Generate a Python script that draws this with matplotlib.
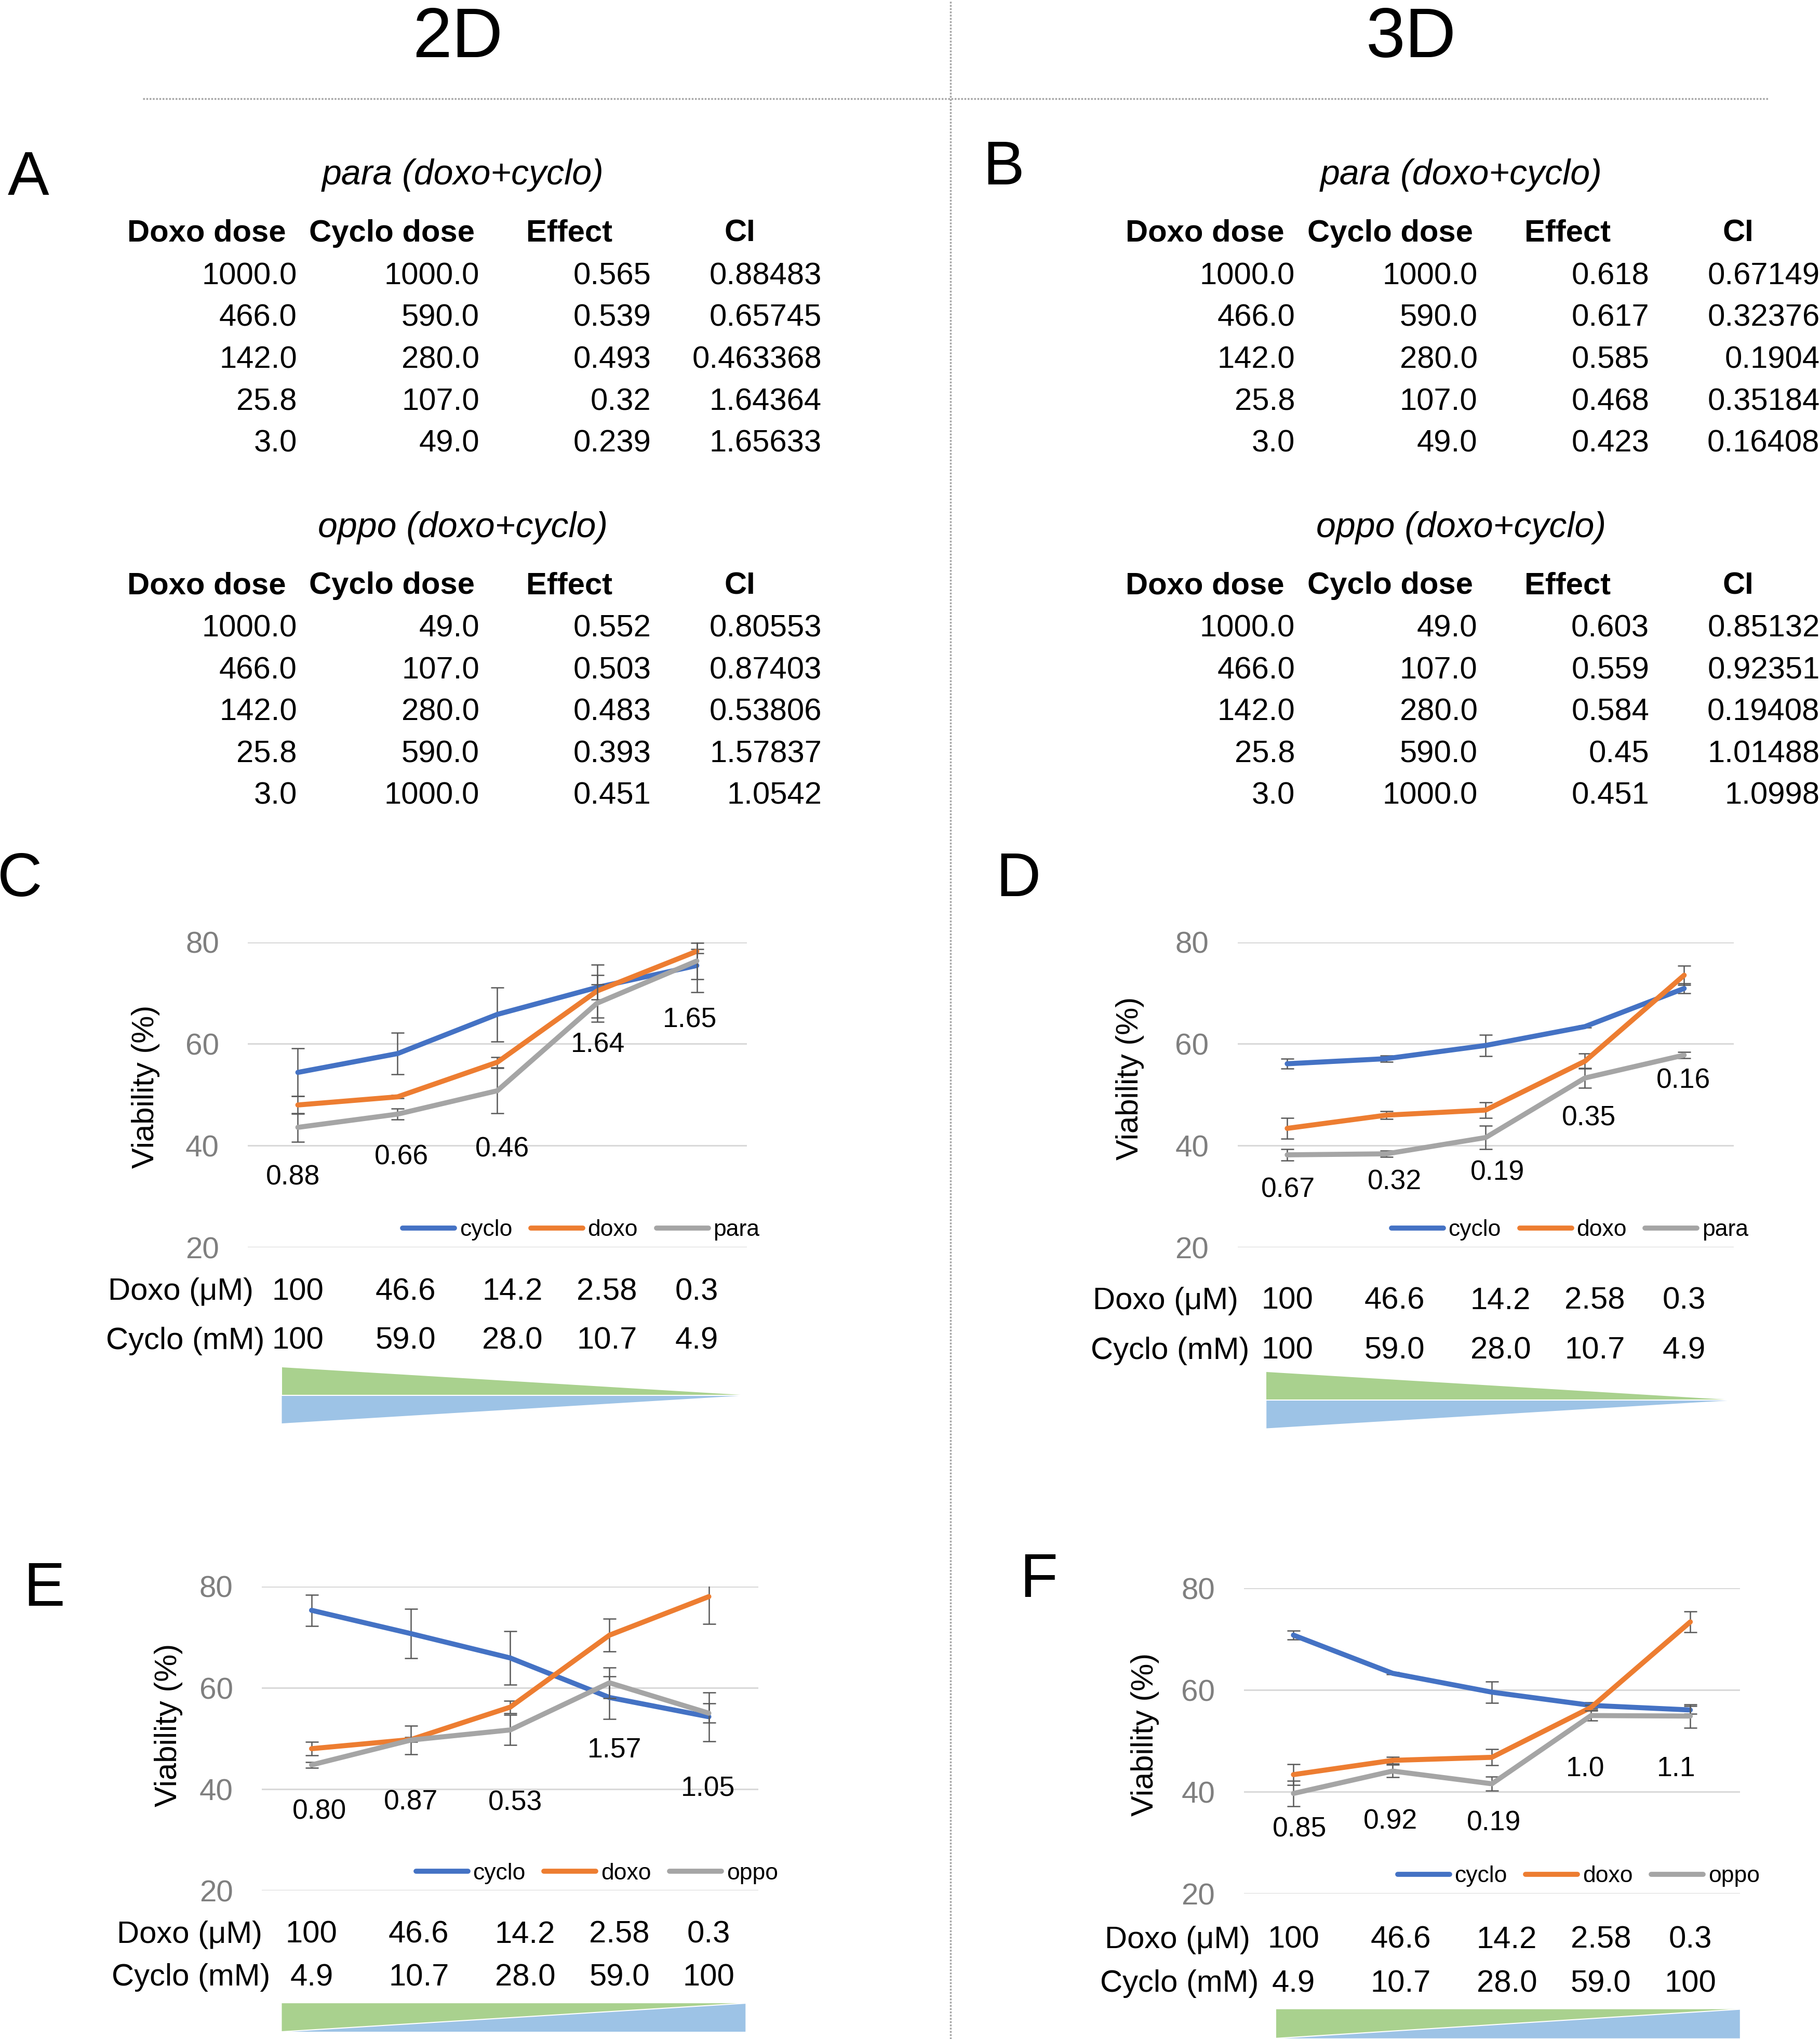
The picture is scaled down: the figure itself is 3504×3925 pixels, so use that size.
import numpy as np
import matplotlib.pyplot as plt
from matplotlib import transforms
from matplotlib.patches import Polygon
from matplotlib.lines import Line2D

plt.rcParams['font.family'] = ['Liberation Sans', 'DejaVu Sans']

# ---------------- data ----------------
# combination tables (A = 2D, B = 3D)
doxo_dose = [1000.0, 466.0, 142.0, 25.8, 3.0]
cyclo_dose_para = [1000.0, 590.0, 280.0, 107.0, 49.0]
cyclo_dose_oppo = [49.0, 107.0, 280.0, 590.0, 1000.0]

a_para_effect = [0.565, 0.539, 0.493, 0.32, 0.239]
a_para_ci = [0.88483, 0.65745, 0.463368, 1.64364, 1.65633]
a_oppo_effect = [0.552, 0.503, 0.483, 0.393, 0.451]
a_oppo_ci = [0.80553, 0.87403, 0.53806, 1.57837, 1.0542]

b_para_effect = [0.618, 0.617, 0.585, 0.468, 0.423]
b_para_ci = [0.67149, 0.32376, 0.1904, 0.35184, 0.16408]
b_oppo_effect = [0.603, 0.559, 0.584, 0.45, 0.451]
b_oppo_ci = [0.85132, 0.92351, 0.19408, 1.01488, 1.0998]

# concentration labels under the charts
conc_doxo = ['100', '46.6', '14.2', '2.58', '0.3']
conc_cyclo_para = ['100', '59.0', '28.0', '10.7', '4.9']
conc_cyclo_oppo = ['4.9', '10.7', '28.0', '59.0', '100']

# viability (%) and error bars
cyclo_c = [54.4, 58.1, 65.8, 71.1, 75.4]
cyclo_c_err = [4.7, 4.1, 5.3, 2.4, 5.2]
doxo_c = [48.0, 49.6, 56.4, 70.4, 78.2]
doxo_c_err = [1.7, 0.3, 1.0, 5.2, 0.4]
para_c = [43.6, 46.2, 50.8, 68.0, 76.3]
para_c_err = [2.8, 1.1, 4.4, 3.7, 3.6]
ci_c = ['0.88', '0.66', '0.46', '1.64', '1.65']

cyclo_d = [56.1, 57.1, 59.7, 63.4, 70.9]
cyclo_d_err = [1.0, 0.6, 2.1, 0.2, 1.0]
doxo_d = [43.4, 46.0, 47.0, 56.6, 73.5]
doxo_d_err = [2.0, 0.8, 1.5, 1.5, 1.9]
para_d = [38.2, 38.4, 41.6, 53.3, 57.8]
para_d_err = [1.1, 0.6, 2.3, 1.9, 0.6]
ci_d = ['0.67', '0.32', '0.19', '0.35', '0.16']

cyclo_e = [75.3, 70.7, 65.9, 58.1, 54.3]
cyclo_e_err = [3.1, 4.9, 5.3, 4.2, 4.8]
doxo_e = [48.0, 49.8, 56.2, 70.4, 78.0]
doxo_e_err = [1.3, 0.5, 1.2, 3.2, 5.4]
oppo_e = [44.8, 49.7, 51.7, 61.0, 55.0]
oppo_e_err = [0.6, 2.8, 3.0, 3.0, 1.9]
ci_e = ['0.80', '0.87', '0.53', '1.57', '1.05']

cyclo_f = [70.8, 63.3, 59.6, 57.0, 56.1]
cyclo_f_err = [0.9, 0.2, 2.1, 0.6, 0.8]
doxo_f = [43.4, 46.2, 46.8, 56.6, 73.4]
doxo_f_err = [2.0, 0.7, 1.6, 0.5, 2.0]
oppo_f = [39.7, 44.1, 41.6, 55.0, 54.9]
oppo_f_err = [2.5, 1.2, 1.4, 1.0, 2.3]
ci_f = ['0.85', '0.92', '0.19', '1.0', '1.1']

colors = ['#4472C4', '#ED7D31', '#A5A5A5']

# ---------------- layout helpers (reference px at 1400 wide) ----------------
W, H = 1400.0, 1568.0


def fx(x):
    return x / W


def fy(y):
    return 1 - y / H


fig = plt.figure(figsize=(35.05, 39.25), dpi=100)

# header titles and dotted separators
fig.text(fx(352), fy(44), '2D', ha='center', va='baseline', fontsize=98)
fig.text(fx(1085), fy(44), '3D', ha='center', va='baseline', fontsize=98)
fig.add_artist(Line2D([fx(110), fx(1360)], [fy(76), fy(76)], transform=fig.transFigure,
                      color='#A6A6A6', lw=2.5, ls=(0, (1, 0.8))))
fig.add_artist(Line2D([fx(731), fx(731)], [0, 1], transform=fig.transFigure,
                      color='#A6A6A6', lw=2.5, ls=(0, (1, 0.8))))

# panel letters
for txt, x, y in [('A', 6, 150), ('B', 756, 142), ('C', -2, 689),
                  ('D', 766, 689), ('E', 18, 1235), ('F', 784, 1228)]:
    fig.text(fx(x), fy(y), txt, ha='left', va='baseline', fontsize=86)


def draw_table(dx, dy, title, cyclo, effect, ci):
    fig.text(fx(356 + dx), fy(142 + dy), title, ha='center', va='baseline',
             fontsize=49, style='italic')
    heads = ['Doxo dose', 'Cyclo dose', 'Effect', 'CI']
    head_x = [159, 301.5, 437.8, 569]
    for h, x in zip(heads, head_x):
        fig.text(fx(x + dx), fy(185.7 + dy), h, ha='center', va='baseline',
                 fontsize=43, weight='bold')
    col_right = [228.4, 368.7, 500.7, 631.9]
    for i in range(len(doxo_dose)):
        vals = [doxo_dose[i], cyclo[i], effect[i], ci[i]]
        for v, x in zip(vals, col_right):
            fig.text(fx(x + dx), fy(218.6 + 32.2 * i + dy), str(v), ha='right',
                     va='baseline', fontsize=43)


draw_table(0, 0, 'para (doxo+cyclo)', cyclo_dose_para, a_para_effect, a_para_ci)
draw_table(0, 271, 'oppo (doxo+cyclo)', cyclo_dose_oppo, a_oppo_effect, a_oppo_ci)
draw_table(767.5, 0, 'para (doxo+cyclo)', cyclo_dose_para, b_para_effect, b_para_ci)
draw_table(767.5, 271, 'oppo (doxo+cyclo)', cyclo_dose_oppo, b_oppo_effect, b_oppo_ci)

panels = [
    dict(rect=(190.7, 574.2, 724.5, 959.3),
         series=[(cyclo_c, cyclo_c_err), (doxo_c, doxo_c_err), (para_c, para_c_err)],
         names=['cyclo', 'doxo', 'para'], ci=ci_c,
         ci_xy=[(-0.05, 33.8), (1.04, 37.7), (2.05, 39.3), (3.01, 59.8), (3.93, 64.7)],
         cyclo_lab=conc_cyclo_para, rows=(83.2, 999.6, 81.6, 1037.3),
         tri=(216.7, 576, 1051.3, 1094.6), up=False, ylab=(112, 835.8)),
    dict(rect=(951.7, 1333.3, 724.5, 959.3),
         series=[(cyclo_d, cyclo_d_err), (doxo_d, doxo_d_err), (para_d, para_d_err)],
         names=['cyclo', 'doxo', 'para'], ci=ci_d,
         ci_xy=[(0.01, 31.3), (1.08, 32.8), (2.12, 34.7), (3.04, 45.4), (3.99, 52.8)],
         cyclo_lab=conc_cyclo_para, rows=(840.5, 1006.7, 839, 1045),
         tri=(973.9, 1333, 1055.1, 1098.4), up=False, ylab=(869, 829.4)),
    dict(rect=(201.4, 583.3, 1220, 1453.9),
         series=[(cyclo_e, cyclo_e_err), (doxo_e, doxo_e_err), (oppo_e, oppo_e_err)],
         names=['cyclo', 'doxo', 'oppo'], ci=ci_e,
         ci_xy=[(0.08, 35.6), (1.0, 37.4), (2.05, 37.3), (3.05, 47.8), (3.99, 40.1)],
         cyclo_lab=conc_cyclo_oppo, rows=(89.8, 1494, 85.8, 1527),
         tri=(216.7, 573.3, 1540.5, 1562.4), up=True, ylab=(129.6, 1326.7)),
    dict(rect=(956.5, 1338, 1221.4, 1456.3),
         series=[(cyclo_f, cyclo_f_err), (doxo_f, doxo_f_err), (oppo_f, oppo_f_err)],
         names=['cyclo', 'doxo', 'oppo'], ci=ci_f,
         ci_xy=[(0.06, 32.6), (0.98, 34.2), (2.02, 33.9), (2.94, 44.5), (3.86, 44.5)],
         cyclo_lab=conc_cyclo_oppo, rows=(849.5, 1498, 846, 1531.7),
         tri=(981.4, 1338, 1545.1, 1567.5), up=True, ylab=(880.5, 1333.7)),
]

label_shift = [0.0, 0.08, 0.15, 0.1, 0.0]
x = np.arange(5)

for p in panels:
    l, r, t, b = p['rect']
    ax = fig.add_axes([fx(l), fy(b), (r - l) / W, (b - t) / H])
    ax.set_xlim(-0.5, 4.5)
    ax.set_ylim(20, 80)
    ax.set_yticks([20, 40, 60, 80])
    ax.set_xticks([])
    for s in ax.spines.values():
        s.set_visible(False)
    ax.grid(axis='y', color='#D9D9D9', lw=2.2)
    ax.set_axisbelow(True)
    ax.tick_params(axis='y', length=0, pad=40, labelsize=42, labelcolor='#7F7F7F')

    handles = []
    for k, ((vals, err), col) in enumerate(zip(p['series'], colors)):
        # error bars are cut at the axis maximum, as in the original chart
        ax.errorbar(x, vals, yerr=err, fmt='none', ecolor='#595959',
                    elinewidth=1.8, capsize=9, capthick=1.8, zorder=3 + 2 * k)
        ln, = ax.plot(x, vals, color=col, lw=7, solid_capstyle='round',
                      solid_joinstyle='round', zorder=4 + 2 * k, clip_on=False)
        handles.append(ln)

    ax.legend(handles, p['names'], loc='center left', bbox_to_anchor=(0.31, 0.057),
              ncol=3, frameon=False, fontsize=32, handlelength=2.25,
              handletextpad=0.22, columnspacing=0.8, borderpad=0, borderaxespad=0)

    for txt, (cx, cy) in zip(p['ci'], p['ci_xy']):
        ax.text(cx, cy, txt, ha='center', va='center', fontsize=38.5, zorder=10)

    fig.text(fx(p['ylab'][0]), fy(p['ylab'][1]), 'Viability (%)', rotation=90,
             ha='center', va='center', fontsize=43)

    # concentration rows
    trans = transforms.blended_transform_factory(ax.transData, fig.transFigure)
    dl, dyb, cl, cyb = p['rows']
    fig.text(fx(dl), fy(dyb), 'Doxo (\u03bcM)', ha='left', va='baseline', fontsize=43)
    fig.text(fx(cl), fy(cyb), 'Cyclo (mM)', ha='left', va='baseline', fontsize=43)
    for i in range(5):
        ax.text(i + label_shift[i], fy(dyb), conc_doxo[i], transform=trans,
                ha='center', va='baseline', fontsize=43)
        ax.text(i + label_shift[i], fy(cyb), p['cyclo_lab'][i], transform=trans,
                ha='center', va='baseline', fontsize=43)

    # dose gradient wedges
    tl, tr, tt, tb = p['tri']
    tm = (tt + tb) / 2
    if not p['up']:
        green = [(fx(tl), fy(tt)), (fx(tl), fy(tm)), (fx(tr), fy(tm))]
        blue = [(fx(tl), fy(tm)), (fx(tl), fy(tb)), (fx(tr), fy(tm))]
        sep = ([fx(tl), fx(tr)], [fy(tm), fy(tm)])
    else:
        green = [(fx(tl), fy(tt)), (fx(tr), fy(tt)), (fx(tl), fy(tb))]
        blue = [(fx(tl), fy(tb)), (fx(tr), fy(tt)), (fx(tr), fy(tb))]
        sep = ([fx(tl), fx(tr)], [fy(tb), fy(tt)])
    fig.add_artist(Polygon(green, closed=True, transform=fig.transFigure,
                           facecolor='#A9D18E', edgecolor='none'))
    fig.add_artist(Polygon(blue, closed=True, transform=fig.transFigure,
                           facecolor='#9DC3E6', edgecolor='none'))
    fig.add_artist(Line2D(sep[0], sep[1], transform=fig.transFigure,
                          color='white', lw=1.5))

fig.savefig('out.png', dpi=100)
